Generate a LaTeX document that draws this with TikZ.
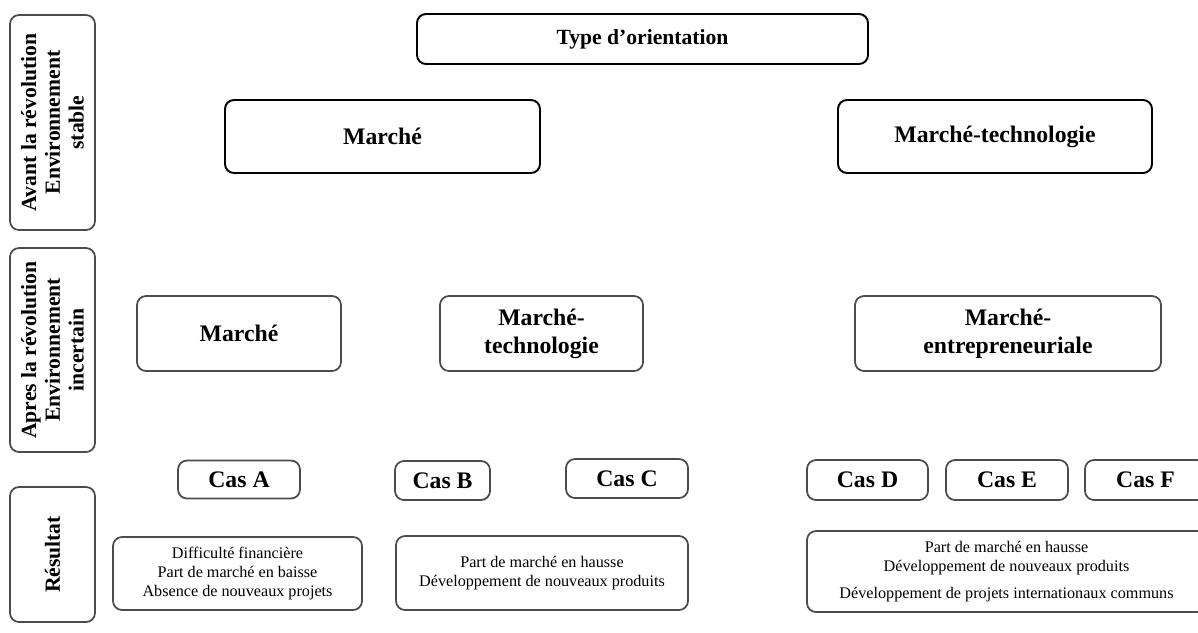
\documentclass[tikz,border=0pt]{standalone}
\usepackage{fontspec}
\setmainfont{Liberation Serif}

\tikzset{
  mainbox/.style={draw=black, line width=1.1pt, rounded corners=0.18cm, align=center, font=\bfseries},
  subbox/.style={draw=black!70, line width=1pt, rounded corners=0.18cm, align=center, font=\bfseries},
  sidebox/.style={subbox, rotate=90, minimum height=1.7cm, font=\fontsize{12.3}{13.5}\selectfont\bfseries},
  resbox/.style={draw=black!70, line width=1pt, rounded corners=0.18cm, align=center, font=\fontsize{9.2}{10.8}\selectfont},
  casbox/.style={subbox, minimum height=0.78cm, font=\fontsize{13.5}{15}\selectfont\bfseries}
}

\begin{document}
\begin{tikzpicture}
  \useasboundingbox (0,0) rectangle (23.96,-12.64);
  % side column
  \node[sidebox, minimum width=4.3cm] (avant) at (1.05,-2.45) {Avant la révolution\\Environnement\\stable};
  \node[sidebox, minimum width=4.08cm] (apres) at (1.05,-7.0) {Apres la révolution\\Environnement\\incertain};
  \node[sidebox, minimum width=2.7cm] (resultat) at (1.05,-11.09) {Résultat};
  % orientation
  \node[mainbox, minimum width=9.02cm, minimum height=1.0cm, font=\fontsize{12.3}{14}\selectfont\bfseries] (type) at (12.85,-0.78) {Type d’orientation};
  \node[mainbox, minimum width=6.3cm, minimum height=1.46cm, font=\fontsize{13.5}{15}\selectfont\bfseries] (marche1) at (7.65,-2.73) {Marché};
  \node[mainbox, minimum width=6.28cm, minimum height=1.46cm, font=\fontsize{13.5}{15}\selectfont\bfseries] (mtech1) at (19.9,-2.73) {Marché-technologie};
  % after
  \node[subbox, minimum width=4.08cm, minimum height=1.5cm, font=\fontsize{13.5}{16}\selectfont\bfseries] (marche2) at (4.78,-6.67) {Marché};
  \node[subbox, minimum width=4.06cm, minimum height=1.5cm, font=\fontsize{13.5}{16}\selectfont\bfseries] (mtech2) at (10.83,-6.67) {Marché-\\technologie};
  \node[subbox, minimum width=6.12cm, minimum height=1.5cm, font=\fontsize{13.5}{16}\selectfont\bfseries] (mentr2) at (20.16,-6.67) {Marché-\\entrepreneuriale};
  % cases
  \node[casbox, minimum width=2.44cm, minimum height=0.76cm] (casA) at (4.78,-9.59) {Cas A};
  \node[casbox, minimum width=1.9cm] (casB) at (8.85,-9.61) {Cas B};
  \node[casbox, minimum width=2.44cm] (casC) at (12.54,-9.57) {Cas C};
  \node[casbox, minimum width=2.42cm, minimum height=0.8cm] (casD) at (17.35,-9.6) {Cas D};
  \node[casbox, minimum width=2.44cm, minimum height=0.8cm] (casE) at (20.14,-9.6) {Cas E};
  \node[casbox, minimum width=2.42cm, minimum height=0.8cm] (casF) at (22.91,-9.6) {Cas F};
  % results
  \node[resbox, minimum width=4.98cm, minimum height=1.46cm] (res1) at (4.75,-11.47) {Difficulté financière\\Part de marché en baisse\\Absence de nouveaux projets};
  \node[resbox, minimum width=5.84cm, minimum height=1.48cm] (res2) at (10.84,-11.46) {Part de marché en hausse\\Développement de nouveaux produits};
  \node[resbox, minimum width=7.98cm, minimum height=1.62cm] (res3) at (20.13,-11.43) {Part de marché en hausse\\Développement de nouveaux produits\\[5pt]Développement de projets internationaux communs};
\end{tikzpicture}
\end{document}
